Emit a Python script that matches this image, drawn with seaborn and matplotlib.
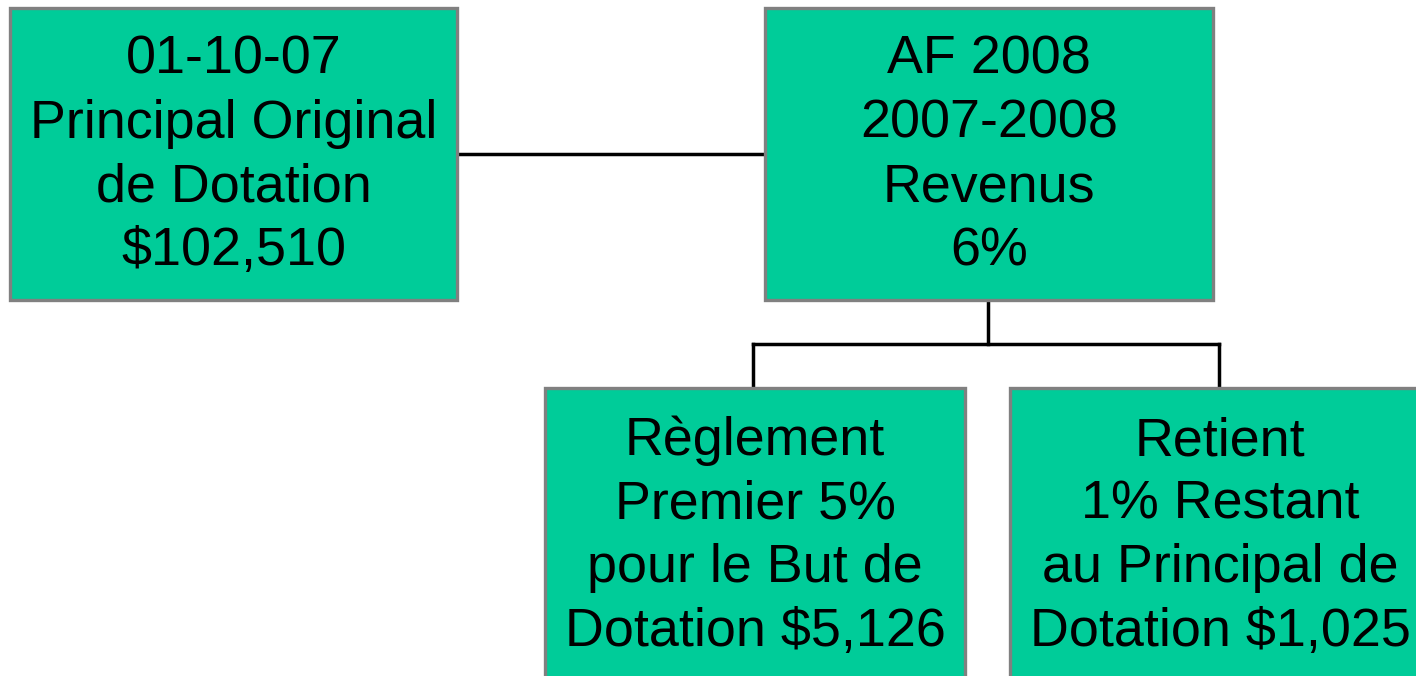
import matplotlib
matplotlib.use("Agg")
import matplotlib.pyplot as plt
from matplotlib.patches import Rectangle
import seaborn as sns

# ---- content ----
node_names = ["principal", "revenus", "reglement", "retient"]
node_labels = [
    ["01-10-07", "Principal Original", "de Dotation", "$102,510"],
    ["AF 2008", "2007-2008", "Revenus", "6%"],
    ["Règlement", "Premier 5%", "pour le But de", "Dotation $5,126"],
    ["Retient", "1% Restant", "au Principal de", "Dotation $1,025"],
]
# ---- layout (pixel space) ----
box_x = [10, 765, 545, 1010]
box_y = [8, 8, 388, 388]
box_w = [447, 448, 420, 420]
box_h = [292, 292, 300, 300]
first_baseline = [74, 74, 455, 455]
line_step = 63.7

sns.set_theme(style="white")
plt.rcParams['font.family'] = ['Liberation Sans', 'DejaVu Sans']

fig = plt.figure(figsize=(14.16, 6.76), dpi=100)
ax = fig.add_axes([0, 0, 1, 1])
ax.set_xlim(0, 1416)
ax.set_ylim(676, 0)
ax.axis("off")

fill = "#00CC99"
edge = "#808080"

# connectors
lc = dict(color="black", lw=2.5, solid_capstyle="projecting", zorder=1)
ax.plot([457, 765], [154, 154], **lc)
ax.plot([988, 988], [300, 344], **lc)
ax.plot([753, 1219], [344, 344], **lc)
ax.plot([753, 753], [344, 388], **lc)
ax.plot([1219, 1219], [344, 388], **lc)

for i, name in enumerate(node_names):
    ax.add_patch(Rectangle((box_x[i], box_y[i]), box_w[i], box_h[i],
                           facecolor=fill, edgecolor=edge, lw=2.4, zorder=2))
    cx = box_x[i] + box_w[i] / 2
    for j, line in enumerate(node_labels[i]):
        ax.text(cx, first_baseline[i] + j * line_step, line, ha="center", va="baseline",
                fontsize=38.8, color="black", zorder=3)

fig.savefig("out.png", dpi=100)
